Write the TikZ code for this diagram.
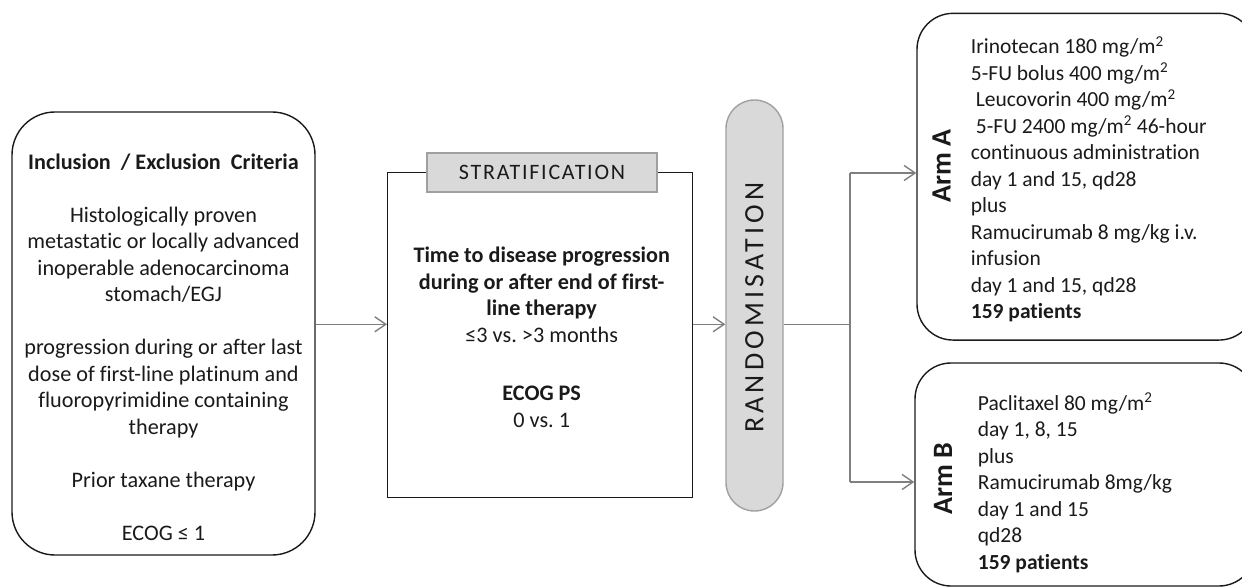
\documentclass[tikz,border=0pt]{standalone}
\usepackage{fontspec}
\setmainfont{Carlito}[Ligatures=NoCommon]
\usetikzlibrary{arrows.meta}
\definecolor{pillfill}{HTML}{D9D9D9}
\definecolor{pillline}{HTML}{A0A0A0}
\definecolor{arrgray}{HTML}{7F7F7F}
\definecolor{ink}{HTML}{1A1A1A}
\frenchspacing
\tikzset{
  body/.style={font=\fontsize{22.2}{26.5}\selectfont, text=ink},
  armbody/.style={font=\fontsize{21.5}{26.5}\selectfont, text=ink},
  rbox/.style={draw=ink, line width=1.4pt, inner sep=0pt},
  greybox/.style={draw=pillline, fill=pillfill, line width=1.4pt, inner sep=0pt},
  conn/.style={draw=arrgray, line width=1.4pt},
  arr/.style={conn, -{Straight Barb[length=11pt,width=15pt,line width=1.4pt]}},
  txt/.style={body, inner sep=0pt},
  armtxt/.style={armbody, inner sep=0pt, align=left, anchor=west},
  armlab/.style={inner sep=0pt, rotate=90, text=ink, font=\bfseries\fontsize{28}{30}\selectfont}
}
\begin{document}
\begin{tikzpicture}[x=1pt,y=-1pt]
\useasboundingbox (0,0) rectangle (1242,588);
\clip (0,0) rectangle (1242,588);
% boxes
\node[rbox, rounded corners=43pt, minimum width=303pt, minimum height=443pt] (incl) at (163.5,333.5) {};
\node[rbox, minimum width=305pt, minimum height=324.6pt] (mid) at (540.2,335) {};
\node[greybox, minimum width=230pt, minimum height=39pt] (strat) at (542,172.5) {};
\node[greybox, rounded corners=28.5pt, minimum width=57pt, minimum height=411pt] (pill) at (754.5,305.5) {};
\node[rbox, rounded corners=36pt, minimum width=338pt, minimum height=326.7pt] (armA) at (1086,176.7) {};
\node[rbox, rounded corners=36pt, minimum width=340pt, minimum height=223pt] (armB) at (1085,474.5) {};
% texts
\node[txt, align=center] (incltxt) at (163.5,347) {\textbf{Inclusion~~/ Exclusion~~Criteria}\\[26.5pt]
Histologically proven\\metastatic or locally advanced\\inoperable adenocarcinoma\\stomach/EGJ\\[26.5pt]
progression during or after last\\dose of first-line platinum and\\fluoropyrimidine containing\\therapy\\[26.5pt]
Prior taxane therapy\\[26.5pt]
ECOG ≤ 1};
\node[txt, align=center] (midtxt) at (541.7,337.5) {\textbf{Time to disease progression}\\\textbf{during or after end of first-}\\\textbf{line therapy}\\≤3 vs. >3 months\\[32pt]\textbf{ECOG PS}\\0 vs. 1};
\node[txt, font=\fontsize{22}{24}\selectfont\addfontfeature{LetterSpace=8}] (strattxt) at (strat.center) {STRATIFICATION};
\node[txt, rotate=90, font=\fontsize{28}{30}\selectfont\addfontfeature{LetterSpace=15}] (pilltxt) at (754.5,307.5) {RANDOMISATION};
\node[armlab] (armAlab) at (941.5,166) {Arm A};
\node[armlab] (armBlab) at (943,478.3) {Arm B};
\node[armtxt] (armAtxt) at (970.7,179.5) {Irinotecan 180 mg/m\textsuperscript{2}\\
5-FU bolus 400 mg/m\textsuperscript{2}\\
\hspace*{5pt}Leucovorin 400 mg/m\textsuperscript{2}\\
\hspace*{5pt}5-FU 2400 mg/m\textsuperscript{2} 46-hour\\
continuous administration\\
day 1 and 15, qd28\\
plus\\
Ramucirumab 8 mg/kg i.v.\\
infusion\\
day 1 and 15, qd28\\
\textbf{159 patients}};
\node[armtxt] (armBtxt) at (977.7,482.8) {Paclitaxel 80 mg/m\textsuperscript{2}\\
day 1, 8, 15\\
plus\\
Ramucirumab 8mg/kg\\
day 1 and 15\\
qd28\\
\textbf{159 patients}};
% connectors
\coordinate (row) at (0,324.3);
\coordinate (split) at (850,324.3);
\coordinate (ya) at (0,173);
\coordinate (yb) at (0,482);
\draw[arr] (incl.east |- row) -- (mid.west |- row);
\draw[arr] (mid.east |- row) -- (pill.west |- row);
\draw[conn] (pill.east |- row) -- (split);
\draw[conn] (split |- ya) -- (split |- yb);
\draw[arr] (split |- ya) -- (armA.west |- ya);
\draw[arr] (split |- yb) -- (armB.west |- yb);
\end{tikzpicture}
\end{document}
